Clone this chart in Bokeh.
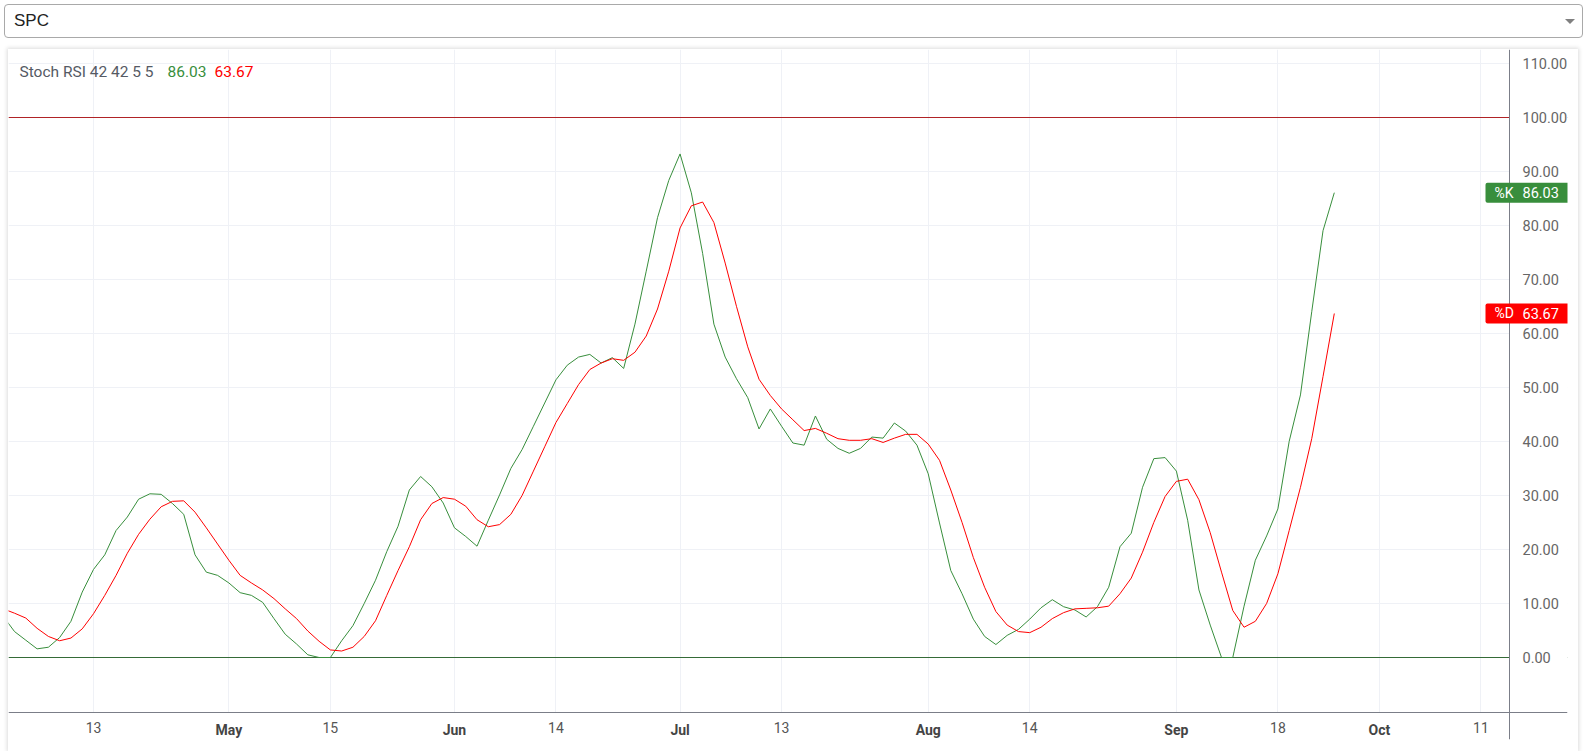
from bokeh.plotting import figure
from bokeh.models import Range1d, FixedTicker, Span, Label, Div
from bokeh.layouts import column
from bokeh.embed import file_html
from bokeh.resources import INLINE

# ---- data (bar index 0 = Apr 13) ----
bar_index = list(range(-8, 111))
k_values = [7.6, 4.8, 3.2, 1.6, 1.9, 3.7, 6.7, 12.1,
            16.3, 19, 23.5, 26, 29.3, 30.3, 30.2, 28.5, 26.5, 19,
            15.8, 15.2, 13.8, 12, 11.5, 10.2, 7.2, 4.3, 2.5, 0.5,
            0, 0, 3.1, 5.9, 10, 14.3, 19.6, 24.3, 31, 33.5,
            31.6, 28.6, 24, 22.4, 20.6, 25.4, 30.1, 35, 38.5, 42.8,
            47.1, 51.4, 54.1, 55.6, 56.1, 54.5, 55.5, 53.5, 61.7, 71.5,
            81.4, 88.3, 93.2, 86, 74.8, 61.7, 55.6, 51.6, 48.1, 42.3,
            46, 42.8, 39.7, 39.3, 44.7, 40.4, 38.7, 37.8, 38.7, 40.8,
            40.6, 43.4, 41.9, 39.3, 34, 24.9, 16.1, 11.8, 7.1, 3.9,
            2.4, 4.1, 5.2, 7.1, 9.2, 10.7, 9.4, 8.8, 7.5, 9.4,
            13, 20.5, 23, 31.5, 36.8, 37, 34.5, 25.4, 12.5, 6,
            0, 0, 9.5, 18, 22.5, 27.5, 40, 48.6, 64, 79, 86.03]
d_values = [9, 8.2, 7.3, 5.4, 3.9, 3.1, 3.6, 5.3,
            8.1, 11.5, 15.2, 19.3, 22.8, 25.6, 27.9, 28.9, 29, 26.9,
            24, 21, 18, 15.2, 13.8, 12.5, 10.9, 9, 7.2, 4.9,
            3, 1.4, 1.2, 1.9, 3.9, 6.8, 11.5, 16.1, 20.5, 25.5,
            28.5, 29.6, 29.3, 28, 25.5, 24.2, 24.6, 26.5, 30, 34.5,
            39, 43.5, 47, 50.5, 53.3, 54.5, 55.3, 55, 56.5, 59.5,
            64.5, 71.5, 79.5, 83.6, 84.3, 80.5, 73, 65, 57.5, 51.5,
            48.5, 46, 44, 42, 42.4, 41.5, 40.5, 40.2, 40.2, 40.5,
            39.8, 40.6, 41.3, 41.3, 39.5, 36.5, 31, 25, 18.5, 13,
            8.5, 6, 4.8, 4.6, 5.6, 7.2, 8.3, 9, 9.1, 9.2,
            9.5, 11.8, 14.7, 19.5, 25, 29.8, 32.6, 33, 29.2, 23.1,
            15.8, 8.7, 5.6, 6.7, 10, 15.5, 23.5, 31.5, 40.5, 52, 63.67]

x_tick_positions = [0, 12, 21, 32, 41, 52, 61, 74, 83, 96, 105, 114, 123]
x_tick_labels = ["13", "May", "15", "Jun", "14", "Jul", "13", "Aug", "14", "Sep", "18", "Oct", "11"]
month_names = ["May", "Jun", "Jul", "Aug", "Sep", "Oct", "Nov", "Dec", "Jan", "Feb", "Mar", "Apr"]
y_tick_values = [0, 10, 20, 30, 40, 50, 60, 70, 80, 90, 100, 110]
y_tick_labels = ["0.00", "10.00", "20.00", "30.00", "40.00", "50.00", "60.00", "70.00", "80.00",
                 "90.00", "100.00", "110.00"]
symbol = "SPC"
legend_title = "Stoch RSI 42 42 5 5"
k_last = 86.03
d_last = 63.67
upper_band = 100
lower_band = 0

K_COLOR = "#388e3c"
D_COLOR = "#ff0000"
FONT = "Roboto"

# ---- page layout (pixels) ----
FIG_X0, FIG_X1 = 8, 1578          # card left / right on the page
FIG_Y0, FIG_Y1 = 49, 751          # card top / bottom on the page
FRAME_R, FRAME_B = 1567, 739      # drawing frame right / bottom
AXIS_X, AXIS_Y = 1509, 712        # visible price axis / time axis lines
BAR0_PX, BAR_PX = 93, 11.28       # page x of bar 0, pixels per bar
ZERO_PX, UNIT_PX = 657, 5.403     # page y of value 0, pixels per unit


def px2x(px):
    return (px - BAR0_PX) / BAR_PX


def px2y(py):
    return (ZERO_PX - py) / UNIT_PX


# ---- dropdown ----
dropdown = Div(
    text=(
        '<div style="position:relative;left:4px;top:4px;width:1579px;height:34px;'
        'box-sizing:border-box;border:1px solid #a9a9a9;border-radius:4px;background:#fff;'
        "font-family:'Liberation Sans',Arial,sans-serif;font-size:17px;color:#222;"
        'line-height:32px;padding-left:9px;">' + symbol +
        '<span style="position:absolute;right:7px;top:14px;width:0;height:0;'
        'border-left:5px solid transparent;border-right:5px solid transparent;'
        'border-top:5px solid #808080;"></span></div>'
    ),
    width=1585, height=FIG_Y0, margin=0,
)

# ---- main chart ----
xs0, xs1 = px2x(FIG_X0), px2x(FRAME_R)
ys0, ys1 = px2y(FRAME_B), px2y(FIG_Y0)
p = figure(width=FIG_X1 - FIG_X0, height=FIG_Y1 - FIG_Y0,
           x_range=Range1d(xs0, xs1), y_range=Range1d(ys0, ys1),
           output_backend="svg", toolbar_location=None, y_axis_location="right",
           min_border_left=0, min_border_top=0, min_border_right=FIG_X1 - FRAME_R,
           min_border_bottom=FIG_Y1 - FRAME_B,
           background_fill_color="white", border_fill_color="white", outline_line_color=None)
p.margin = (0, 0, 0, FIG_X0)
p.styles = {"box-shadow": "0 0 4px 1px rgba(0,0,0,0.14)"}

GRID = "#eff1f6"
p.xgrid.ticker = FixedTicker(ticks=x_tick_positions)
p.ygrid.ticker = FixedTicker(ticks=y_tick_values)
p.xgrid.grid_line_color = GRID
p.ygrid.grid_line_color = GRID

xa = p.xaxis[0]
xa.ticker = FixedTicker(ticks=x_tick_positions)
xa.major_label_overrides = {pos: ("" if lab in month_names else lab)
                            for pos, lab in zip(x_tick_positions, x_tick_labels)}
xa.axis_line_color = None
xa.major_tick_out = 0
xa.major_tick_in = 0
xa.minor_tick_out = 0
xa.minor_tick_in = 0
xa.major_label_standoff = 721 - FRAME_B
xa.major_label_text_font = FONT
xa.major_label_text_font_size = "14px"
xa.major_label_text_color = "#555"

ya = p.yaxis[0]
ya.ticker = FixedTicker(ticks=y_tick_values)
ya.major_label_overrides = dict(zip(y_tick_values, y_tick_labels))
ya.axis_line_color = None
ya.major_tick_out = 0
ya.major_tick_in = 0
ya.minor_tick_out = 0
ya.minor_tick_in = 0
ya.major_label_standoff = 1522 - FRAME_R
ya.major_label_text_font = FONT
ya.major_label_text_font_size = "14.5px"
ya.major_label_text_color = "#666"

# band lines
if hasattr(p, "hspan"):
    p.hspan(y=[upper_band], line_color="#b02326", line_width=1)
    p.hspan(y=[lower_band], line_color="#356b37", line_width=1)
else:
    p.segment(x0=[xs0], x1=[px2x(AXIS_X)], y0=[upper_band], y1=[upper_band], line_color="#b02326")
    p.segment(x0=[xs0], x1=[px2x(AXIS_X)], y0=[lower_band], y1=[lower_band], line_color="#356b37")

# blank the price-scale and time-scale areas (they live inside the frame)
p.quad(left=[px2x(AXIS_X)], right=[xs1 + 1], bottom=[ys0 - 1], top=[ys1 + 1],
       fill_color="white", line_color=None)
p.quad(left=[xs0 - 1], right=[xs1 + 1], bottom=[ys0 - 1], top=[px2y(AXIS_Y)],
       fill_color="white", line_color=None)

p.line(bar_index, k_values, line_color=K_COLOR, line_width=1)
p.line(bar_index, d_values, line_color=D_COLOR, line_width=1)

# visible axis lines
p.add_layout(Span(location=px2x(AXIS_X), dimension="height", line_color="#7b7e88", line_width=1))
p.add_layout(Span(location=px2y(AXIS_Y), dimension="width", line_color="#7b7e88", line_width=1))

# month labels in bold at the month ticks
for pos, lab in zip(x_tick_positions, x_tick_labels):
    if lab in month_names:
        p.add_layout(Label(x=pos, y=px2y(729), text=lab, text_align="center",
                           text_baseline="middle", text_font=FONT, text_font_size="14px",
                           text_font_style="bold", text_color="#444"))

# legend
for txt, xs, col in [(legend_title, 11, "#555a64"), (f"{k_last:.2f}", 159, K_COLOR),
                     (f"{d_last:.2f}", 206, D_COLOR)]:
    p.add_layout(Label(x=xs, x_units="screen", y=px2y(71), text=txt, text_color=col,
                       text_font=FONT, text_font_size="15.5px", text_baseline="middle"))

# price-scale badges
for name, val, col in [("%K", k_last, K_COLOR), ("%D", d_last, D_COLOR)]:
    p.add_layout(Label(x=1485 - FIG_X0, x_units="screen", y=val, text=name, text_color="white",
                       text_font=FONT, text_font_size="14px", text_baseline="middle",
                       background_fill_color=col, border_radius=2,
                       padding=dict(left=9, right=63, top=2, bottom=2)))
    p.add_layout(Label(x=1522 - FIG_X0, x_units="screen", y=val, text=f"{val:.2f}",
                       text_color="white", text_font=FONT, text_font_size="14.5px",
                       text_baseline="middle"))

layout = column(dropdown, p, spacing=0)
open("out.html", "w").write(file_html(layout, INLINE))
